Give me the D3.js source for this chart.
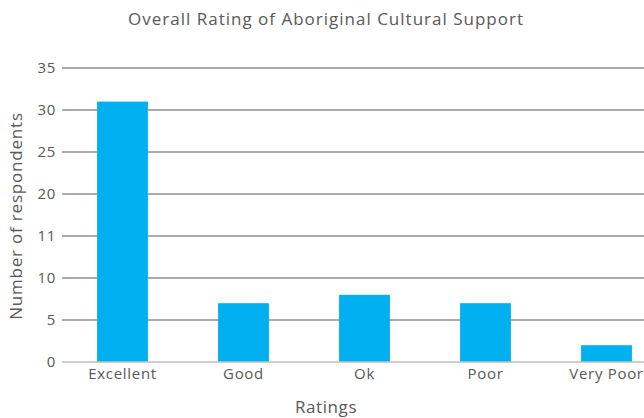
<!DOCTYPE html>
<html>
<head>
<meta charset="utf-8">
<script src="https://cdn.jsdelivr.net/npm/d3@7"></script>
<style>
  body { margin: 0; background: #fff; }
  text { font-family: "Open Sans", sans-serif; fill: #595959; }
</style>
</head>
<body>
<svg id="chart" width="644" height="418"></svg>
<script>
var categories = ["Excellent", "Good", "Ok", "Poor", "Very Poor"];
var values = [31, 7, 8, 7, 2];
var tickValues = [0, 5, 10, 15, 20, 25, 30, 35];
var tickLabels = ["0", "5", "10", "11", "20", "25", "30", "35"];

function makeBar(){
    var svg = d3.select("#chart");
    var left = 62, right = 667, top = 68, bottom = 362;

    var scX = d3.scaleBand().domain(categories).range([left, right]).paddingInner(0.58).paddingOuter(0.29);
    var scY = d3.scaleLinear().domain([0, 35]).range([bottom, top]);

    // gridlines
    svg.append("g").selectAll("line")
        .data(tickValues.slice(1)).enter().append("line")
        .attr("x1", left).attr("x2", 644)
        .attr("y1", d => scY(d)).attr("y2", d => scY(d))
        .attr("stroke", "#595959").attr("stroke-width", 1);

    svg.selectAll("rect")
        .data(values).enter().append("rect")
        .attr("fill", "#00b0f0")
        .attr("x", (d,i) => scX(categories[i]))
        .attr("y", d => scY(d))
        .attr("width", scX.bandwidth())
        .attr("height", d => scY(0) - scY(d));

    // baseline
    svg.append("line")
        .attr("x1", left).attr("x2", 644)
        .attr("y1", scY(0)).attr("y2", scY(0))
        .attr("stroke", "#bfbfbf").attr("stroke-width", 1.5);

    var yAxis = svg.append("g")
        .attr("transform", "translate(" + (left - 3) + ",0)")
        .call(d3.axisLeft(scY).tickValues(tickValues).tickSize(0).tickFormat((d,i) => tickLabels[i]));
    yAxis.select(".domain").remove();
    yAxis.selectAll("text").style("font-size", "15px").style("letter-spacing", "0.7px").attr("fill", "#595959");

    var xAxis = svg.append("g")
        .attr("transform", "translate(0," + bottom + ")")
        .call(d3.axisBottom(scX).tickSize(0).tickPadding(6));
    xAxis.select(".domain").remove();
    xAxis.selectAll("text").style("font-size", "15px").style("letter-spacing", "0.7px").attr("fill", "#595959");

    svg.append("text")
        .attr("x", 326).attr("y", 25)
        .attr("text-anchor", "middle")
        .style("font-size", "17px").style("letter-spacing", "1px")
        .text("Overall Rating of Aboriginal Cultural Support");

    svg.append("text")
        .attr("x", 326).attr("y", 413)
        .attr("text-anchor", "middle")
        .style("font-size", "17px").style("letter-spacing", "0.6px")
        .text("Ratings");

    svg.append("text")
        .attr("transform", "rotate(-90)")
        .attr("x", -216).attr("y", 22)
        .attr("text-anchor", "middle")
        .style("font-size", "17px").style("letter-spacing", "0.8px")
        .text("Number of respondents");
}
makeBar();
</script>
</body>
</html>
